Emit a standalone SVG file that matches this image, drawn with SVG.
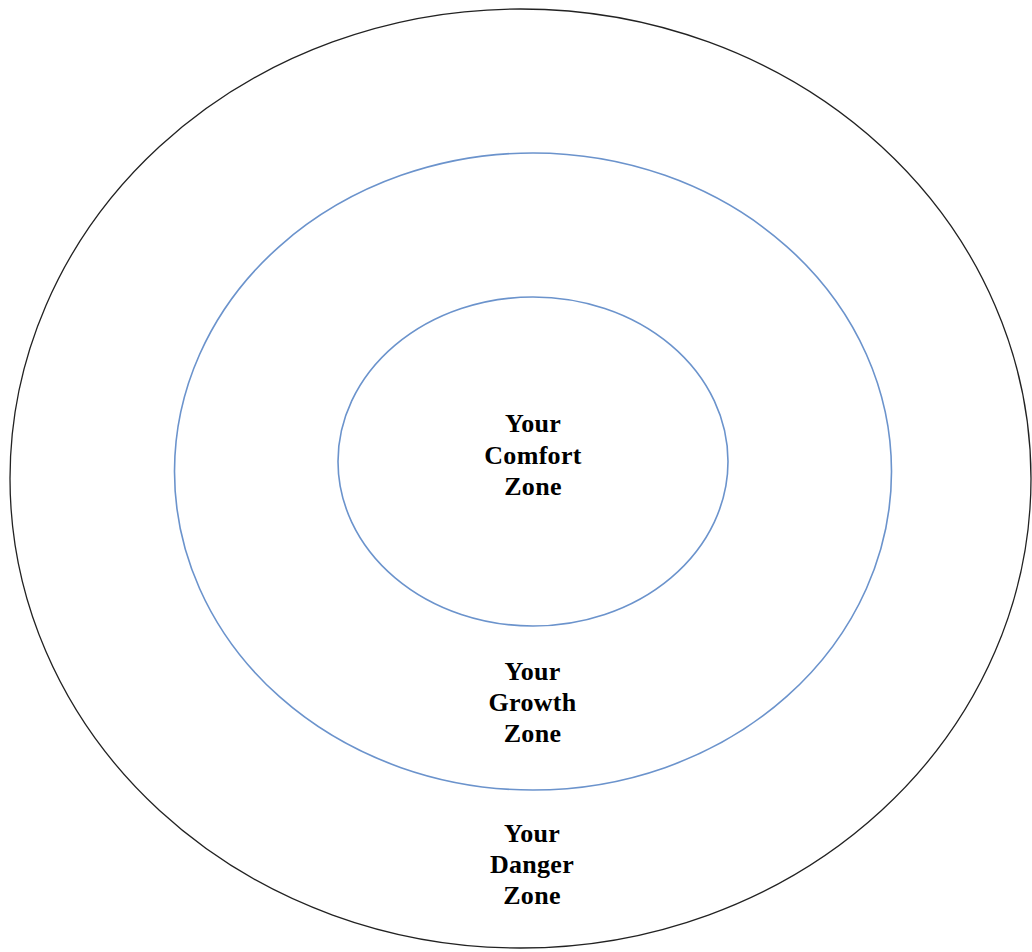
<svg xmlns="http://www.w3.org/2000/svg" width="1032" height="952" viewBox="0 0 1032 952">
<style>
.zone{fill:none}
.outer{stroke:#222;stroke-width:1.3}
.blue{stroke:#6b93cc;stroke-width:1.6}
.lbl{font-family:"Liberation Serif","Times New Roman",serif;font-weight:bold;font-size:26px;letter-spacing:0.3px;fill:#000;text-anchor:middle}
</style>
<rect width="1032" height="952" fill="#fff"/>
<g id="danger-zone">
<ellipse class="zone outer" cx="520.5" cy="478.5" rx="510.5" ry="469.5"/>
<text class="lbl" x="532" y="842">Your</text>
<text class="lbl" x="532" y="873">Danger</text>
<text class="lbl" x="532" y="904">Zone</text>
</g>
<g id="growth-zone">
<ellipse class="zone blue" cx="533" cy="471.5" rx="358.5" ry="318.5"/>
<text class="lbl" x="532.5" y="680">Your</text>
<text class="lbl" x="532.5" y="711">Growth</text>
<text class="lbl" x="532.5" y="742">Zone</text>
</g>
<g id="comfort-zone">
<ellipse class="zone blue" cx="533" cy="461.5" rx="195" ry="164.5"/>
<text class="lbl" x="533" y="432">Your</text>
<text class="lbl" x="533" y="464">Comfort</text>
<text class="lbl" x="533" y="495">Zone</text>
</g>
<g id="connectors"/>
</svg>
